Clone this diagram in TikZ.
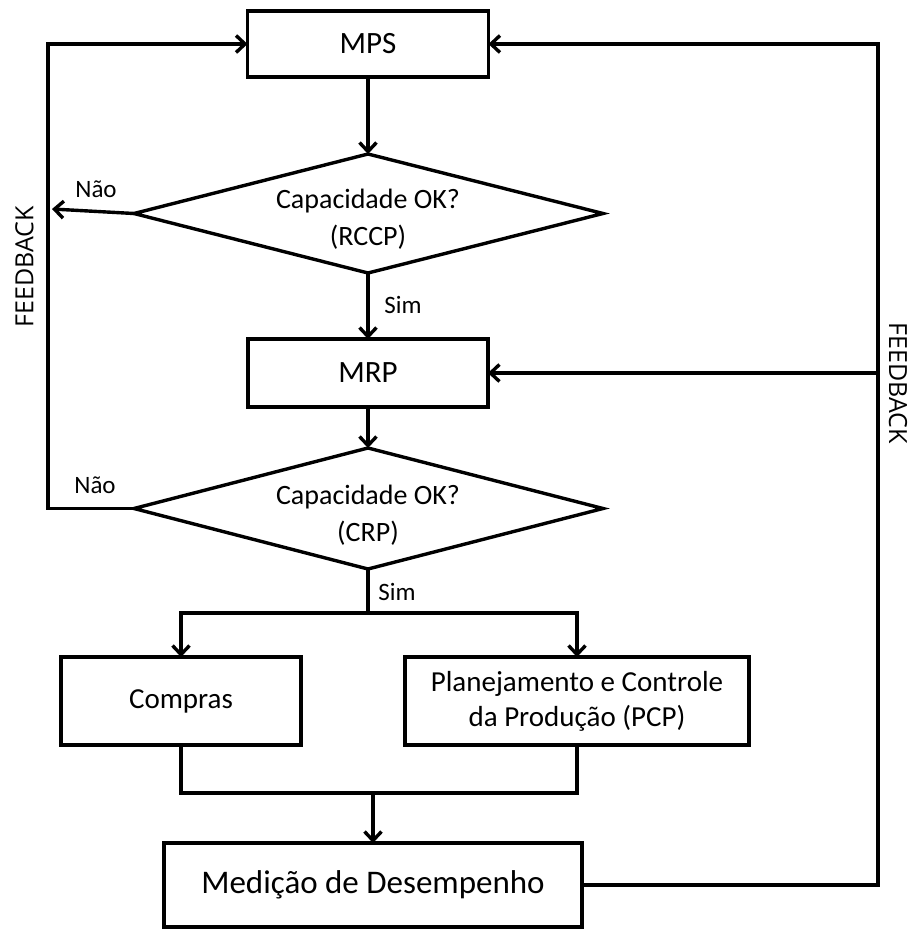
\documentclass[tikz,border=0pt]{standalone}
\usepackage{fontspec}
\setmainfont{Carlito}
\newfontfamily\fbfont{Open Sans}
\usetikzlibrary{arrows.meta}
\begin{document}
\begin{tikzpicture}[x=1pt,y=-1pt,
 line width=3.4pt,
 >={Straight Barb[length=9pt,width=17pt]},
 box/.style={draw, rectangle, inner sep=0pt, outer sep=0pt, align=center, font=\fontsize{29}{35}\selectfont},
 dtext/.style={inner sep=0pt, align=center, font=\fontsize{28}{37}\selectfont},
 lbl/.style={font=\fontsize{25}{30}\selectfont, inner sep=0pt},
 fb/.style={font=\fbfont\fontsize{25}{30}\selectfont, inner sep=0pt}
]
\useasboundingbox (0,0) rectangle (909,929);
\node[box, minimum width=241pt, minimum height=66pt, font=\fontsize{31}{36}\selectfont] (mps) at (368,44) {MPS};
\node[box, minimum width=240pt, minimum height=68pt, font=\fontsize{31}{36}\selectfont] (mrp) at (368,373) {MRP};
\node[box, minimum width=240pt, minimum height=88pt] (compras) at (181,701) {Compras};
\node[box, minimum width=344pt, minimum height=88pt] (pcp) at (577,701) {Planejamento e Controle\\da Produção (PCP)};
\node[box, minimum width=418pt, minimum height=84pt, font=\fontsize{33}{40}\selectfont] (med) at (373,885) {Medição de Desempenho};

% decision 1
\coordinate (d1n) at (368,154);
\coordinate (d1s) at (368,273);
\coordinate (d1w) at (134,213.5);
\coordinate (d1e) at (603,213.5);
\draw[line join=miter] (d1n) -- (d1e) -- (d1s) -- (d1w) -- cycle;
\node[dtext] (d1) at (368,219) {Capacidade OK?\\(RCCP)};
% decision 2
\coordinate (d2n) at (368,448);
\coordinate (d2s) at (368,569);
\coordinate (d2w) at (134,508.5);
\coordinate (d2e) at (603,508.5);
\draw[line join=miter] (d2n) -- (d2e) -- (d2s) -- (d2w) -- cycle;
\node[dtext] (d2) at (368,515) {Capacidade OK?\\(CRP)};

\coordinate (nao1) at (52,209);
\coordinate (lb) at (48,508.5);
\coordinate (rm) at (878,373);
\coordinate (split) at (368,613);
\coordinate (merge) at (373,793);

\draw[->] (mps.south) -- (d1n);
\draw[->] (d1w) -- (nao1);
\draw[->] (d1s) -- (mrp.north);
\draw[->] (mrp.south) -- (d2n);
\draw[->] (d2w) -- (lb) |- (mps.west);
\draw[->] (med.east) -| (rm) |- (mps.east);
\draw[->] (rm) -- (mrp.east);
\draw (d2s) -- (split);
\draw[->] (split) -| (compras.north);
\draw[->] (split) -| (pcp.north);
\draw (compras.south) |- (merge) -| (pcp.south);
\draw[->] (merge) -- (med.north);

\node[lbl] (n1) at (96,189) {Não};
\node[lbl] (n2) at (95,485) {Não};
\node[lbl] (s1) at (403,305) {Sim};
\node[lbl] (s2) at (397,592) {Sim};
\node[fb, rotate=90] (fb1) at (24.5,266.5) {FEEDBACK};
\node[fb, rotate=-90] (fb2) at (898,383) {FEEDBACK};
\end{tikzpicture}
\end{document}
